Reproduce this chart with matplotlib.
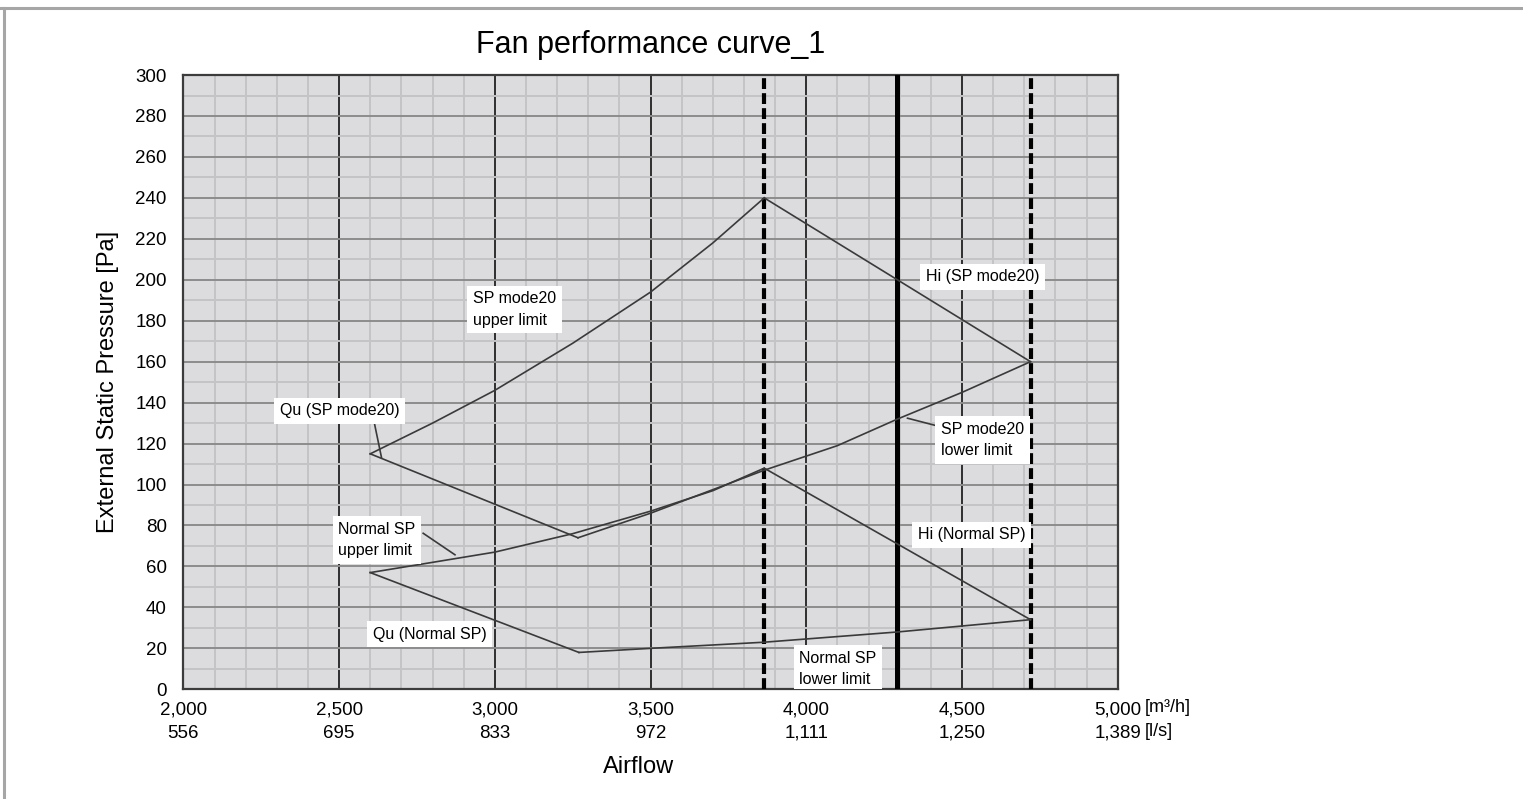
import numpy as np
import matplotlib
matplotlib.use("Agg")
import matplotlib.pyplot as plt
from matplotlib.lines import Line2D

plt.rcParams['font.family'] = ['Liberation Sans', 'DejaVu Sans']

# x ticks: airflow in m3/h and l/s
x_ticks = [2000, 2500, 3000, 3500, 4000, 4500, 5000]
x_ticks_ls = ['556', '695', '833', '972', '1,111', '1,250', '1,389']
y_ticks = list(range(0, 301, 20))

# curves (airflow m3/h, pressure Pa)
sp20_upper_x = [2600, 2800, 3000, 3250, 3500, 3700, 3865]
sp20_upper_y = [115, 130, 146, 169, 194, 218, 240]
sp20_hi_x = [3865, 4720]
sp20_hi_y = [240, 160]
sp20_lower_x = [3267, 3500, 3865, 4100, 4293, 4500, 4720]
sp20_lower_y = [74, 86, 107, 119, 132, 145, 160]
sp20_qu_x = [2600, 3267]
sp20_qu_y = [115, 74]

nsp_upper_x = [2600, 2800, 3000, 3250, 3500, 3700, 3865]
nsp_upper_y = [57, 62, 67, 76, 87, 97, 108]
nsp_hi_x = [3865, 4720]
nsp_hi_y = [108, 34]
nsp_lower_x = [3270, 3500, 3865, 4293, 4720]
nsp_lower_y = [18, 20, 23, 28, 34]
nsp_qu_x = [2600, 3270]
nsp_qu_y = [57, 18]

# vertical limit lines
dashed_x = [3865, 4720]
thick_x = [4290]

# labels: text, x, y, leader line (x0, y0, x1, y1) or None
labels = [
    ("SP mode20\nupper limit", 2930, 185.5, None),
    ("Hi (SP mode20)", 4384, 201.5, None),
    ("Qu (SP mode20)", 2310, 136, (2613, 130.2, 2636, 113.3)),
    ("SP mode20\nlower limit", 4432, 121.7, (4325, 132.4, 4429, 128.3)),
    ("Normal SP\nupper limit", 2497, 72.9, (2770, 76.2, 2872, 65.7)),
    ("Hi (Normal SP)", 4359, 75.4, None),
    ("Qu (Normal SP)", 2609, 27, None),
    ("Normal SP\nlower limit", 3977, 9.9, None),
]

fig = plt.figure(figsize=(15.23, 7.99), dpi=100)
ax = fig.add_axes([0.1204, 0.1373, 0.6135, 0.7688])
ax.set_facecolor('#dcdcdf')

ax.set_xlim(2000, 5000)
ax.set_ylim(0, 300)
ax.set_xticks(x_ticks)
ax.set_xticks(np.arange(2000, 5001, 100), minor=True)
ax.set_yticks(y_ticks)
ax.set_yticks(np.arange(0, 301, 10), minor=True)
ax.set_xticklabels(['{:,}\n{}'.format(a, b) for a, b in zip(x_ticks, x_ticks_ls)],
                   fontsize=13.5, linespacing=1.45)
ax.set_yticklabels([str(v) for v in y_ticks], fontsize=13.5)
ax.tick_params(which='both', length=0)
ax.tick_params(axis='y', pad=12)
ax.tick_params(axis='x', pad=9)

ax.grid(which='minor', color='#c4c4c6', lw=1.4, zorder=0)
ax.grid(which='major', axis='y', color='#8c8c8c', lw=1.4, zorder=0)
ax.grid(which='major', axis='x', color='black', lw=1.1, zorder=1)
ax.set_axisbelow(True)
for s in ax.spines.values():
    s.set_color('#3c3c3c')
    s.set_linewidth(1.6)

for x in dashed_x:
    ax.axvline(x, color='black', lw=3.0, linestyle=(0, (2.6, 1.0)), zorder=3)
for x in thick_x:
    ax.axvline(x, color='black', lw=3.6, zorder=3)

curve_kw = dict(color='#3a3a3a', lw=1.2, zorder=4)
for xs, ys in [(sp20_upper_x, sp20_upper_y), (sp20_hi_x, sp20_hi_y),
               (sp20_lower_x, sp20_lower_y), (sp20_qu_x, sp20_qu_y),
               (nsp_upper_x, nsp_upper_y), (nsp_hi_x, nsp_hi_y),
               (nsp_lower_x, nsp_lower_y), (nsp_qu_x, nsp_qu_y)]:
    ax.plot(xs, ys, **curve_kw)

for txt, x, y, lead in labels:
    ax.text(x, y, txt, fontsize=11.5, ha='left', va='center', linespacing=1.55,
            zorder=6, clip_on=True,
            bbox=dict(facecolor='white', edgecolor='none', pad=4))
    if lead is not None:
        ax.plot([lead[0], lead[2]], [lead[1], lead[3]], color='#3a3a3a', lw=1.2, zorder=5)

# units next to the last tick label
ax.text(1.029, -0.029, '[m\u00b3/h]', transform=ax.transAxes, fontsize=13, va='center', ha='left')
ax.text(1.029, -0.068, '[l/s]', transform=ax.transAxes, fontsize=13, va='center', ha='left')

ax.set_title('Fan performance curve_1', fontsize=22, pad=16)
ax.set_xlabel('Airflow', fontsize=17)
ax.xaxis.set_label_coords(0.4866, -0.108)
ax.set_ylabel('External Static Pressure [Pa]', fontsize=17, labelpad=12)

# grey frame on top and left of the picture
fig.add_artist(Line2D([0, 1], [0.99, 0.99], color='#a6a6a6', lw=2.2))
fig.add_artist(Line2D([0.0028, 0.0028], [0, 0.99], color='#a6a6a6', lw=2.2))

fig.savefig('out.png', dpi=100)
